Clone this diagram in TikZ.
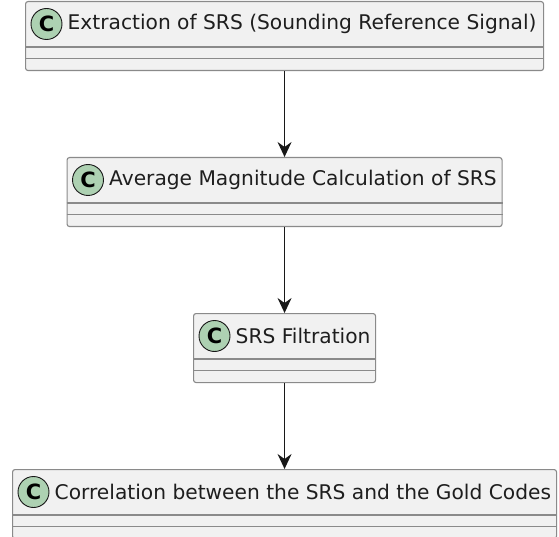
\documentclass[tikz,border=0pt]{standalone}
\usepackage{fontspec}
\setmainfont{DejaVu Sans}
\usetikzlibrary{arrows.meta}
\definecolor{boxfill}{HTML}{F1F1F1}
\definecolor{boxline}{HTML}{8A8A8A}
\definecolor{arrowline}{HTML}{181818}
\definecolor{circfill}{HTML}{ADD1B2}
\definecolor{txt}{HTML}{1E1E1E}
\tikzset{
  classbox/.style={draw=boxline, fill=boxfill, line width=1.1pt, rounded corners=2.5pt,
    minimum height=69pt, inner sep=0pt, anchor=north west},
  sepline/.style={draw=boxline, line width=1.1pt},
  circ/.style={circle, draw=arrowline, fill=circfill, line width=0.9pt, minimum size=31pt,
    inner sep=0pt, font=\fontsize{21}{24}\selectfont\bfseries, text=black},
  classlabel/.style={anchor=west, inner sep=0pt, font=\fontsize{20.2}{24}\selectfont, text=txt},
  conn/.style={draw=arrowline, line width=1.1pt,
    -{Stealth[length=15pt, width=14pt, inset=5pt]}},
}
\newcommand\umlclass[5]{%
  \node[classbox, minimum width=#4pt] (#1) at (#2,#3) {};
  \draw[sepline] ([yshift=-46pt]#1.north west) -- ([yshift=-46pt]#1.north east);
  \draw[sepline] ([yshift=-57.5pt]#1.north west) -- ([yshift=-57.5pt]#1.north east);
  \node[circ] (#1c) at ([xshift=21.5pt,yshift=-23pt]#1.north west) {C};
  \node[classlabel] (#1t) at ([xshift=21pt]#1c.center) {#5};
}
\begin{document}
\begin{tikzpicture}[x=1pt,y=-1pt]
\useasboundingbox (0,0) rectangle (559,537);
\umlclass{b1}{25}{1}{518}{Extraction of SRS (Sounding Reference Signal)}
\umlclass{b2}{66.5}{157}{435}{Average Magnitude Calculation of SRS}
\umlclass{b3}{193}{313}{182}{SRS Filtration}
\umlclass{b4}{12}{469}{544}{Correlation between the SRS and the Gold Codes}
\draw[conn] (b1.south) -- (b2.north);
\draw[conn] (b2.south) -- (b3.north);
\draw[conn] (b3.south) -- (b4.north);
\end{tikzpicture}
\end{document}
